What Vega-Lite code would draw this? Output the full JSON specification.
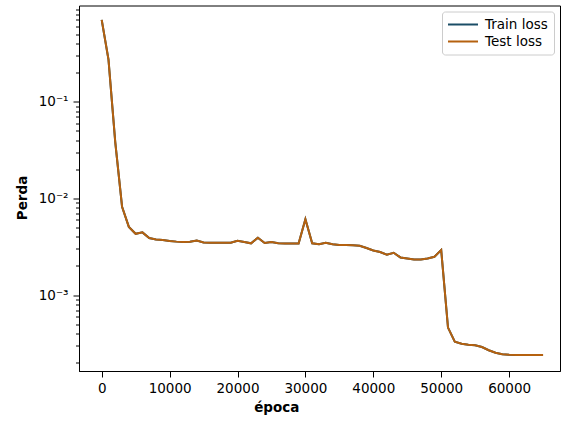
{
  "$schema": "https://vega.github.io/schema/vega-lite/v6.json",
  "width": 481,
  "height": 365.5,
  "autosize": {"type": "none"},
  "padding": {"left": 79, "top": 5.5, "right": 1, "bottom": 50},
  "background": "white",
  "config": {
    "font": "DejaVu Sans",
    "view": {"stroke": "#000000", "strokeWidth": 1},
    "axis": {
      "domainColor": "#000000", "tickColor": "#000000", "labelColor": "#000000", "titleColor": "#000000",
      "labelFont": "DejaVu Sans", "titleFont": "DejaVu Sans", "labelFontSize": 13.5, "titleFontSize": 13.5,
      "titleFontWeight": "bold", "grid": false, "tickWidth": 1, "domainWidth": 1
    },
    "legend": {
      "labelFont": "DejaVu Sans", "labelFontSize": 13.5, "labelColor": "#000000"
    }
  },
  "data": {
    "values": [
      {"epoch": 0, "train": 0.70, "test": 0.70},
      {"epoch": 1000, "train": 0.272, "test": 0.272},
      {"epoch": 2000, "train": 0.038, "test": 0.038},
      {"epoch": 3000, "train": 0.0082, "test": 0.0082},
      {"epoch": 4000, "train": 0.00507, "test": 0.00507},
      {"epoch": 5000, "train": 0.0043, "test": 0.0043},
      {"epoch": 6000, "train": 0.00445, "test": 0.00445},
      {"epoch": 7000, "train": 0.00389, "test": 0.00389},
      {"epoch": 8000, "train": 0.00376, "test": 0.00376},
      {"epoch": 9000, "train": 0.00371, "test": 0.00371},
      {"epoch": 10000, "train": 0.00362, "test": 0.00362},
      {"epoch": 11000, "train": 0.00357, "test": 0.00357},
      {"epoch": 12000, "train": 0.00354, "test": 0.00354},
      {"epoch": 13000, "train": 0.00356, "test": 0.00356},
      {"epoch": 14000, "train": 0.00366, "test": 0.00366},
      {"epoch": 15000, "train": 0.00349, "test": 0.00349},
      {"epoch": 16000, "train": 0.00348, "test": 0.00348},
      {"epoch": 17000, "train": 0.00348, "test": 0.00348},
      {"epoch": 18000, "train": 0.00347, "test": 0.00347},
      {"epoch": 19000, "train": 0.00347, "test": 0.00347},
      {"epoch": 20000, "train": 0.00365, "test": 0.00365},
      {"epoch": 21000, "train": 0.00354, "test": 0.00354},
      {"epoch": 22000, "train": 0.00343, "test": 0.00343},
      {"epoch": 23000, "train": 0.00392, "test": 0.00392},
      {"epoch": 24000, "train": 0.00345, "test": 0.00345},
      {"epoch": 25000, "train": 0.00354, "test": 0.00354},
      {"epoch": 26000, "train": 0.00343, "test": 0.00343},
      {"epoch": 27000, "train": 0.00342, "test": 0.00342},
      {"epoch": 28000, "train": 0.00342, "test": 0.00342},
      {"epoch": 29000, "train": 0.00342, "test": 0.00342},
      {"epoch": 30000, "train": 0.0061, "test": 0.0061},
      {"epoch": 31000, "train": 0.00343, "test": 0.00343},
      {"epoch": 32000, "train": 0.00335, "test": 0.00335},
      {"epoch": 33000, "train": 0.00348, "test": 0.00348},
      {"epoch": 34000, "train": 0.00335, "test": 0.00335},
      {"epoch": 35000, "train": 0.0033, "test": 0.0033},
      {"epoch": 36000, "train": 0.00329, "test": 0.00329},
      {"epoch": 37000, "train": 0.00327, "test": 0.00327},
      {"epoch": 38000, "train": 0.00324, "test": 0.00324},
      {"epoch": 39000, "train": 0.00307, "test": 0.00307},
      {"epoch": 40000, "train": 0.00289, "test": 0.00289},
      {"epoch": 41000, "train": 0.00279, "test": 0.00279},
      {"epoch": 42000, "train": 0.00262, "test": 0.00262},
      {"epoch": 43000, "train": 0.00274, "test": 0.00274},
      {"epoch": 44000, "train": 0.00245, "test": 0.00245},
      {"epoch": 45000, "train": 0.00239, "test": 0.00239},
      {"epoch": 46000, "train": 0.00233, "test": 0.00233},
      {"epoch": 47000, "train": 0.00233, "test": 0.00233},
      {"epoch": 48000, "train": 0.00239, "test": 0.00239},
      {"epoch": 49000, "train": 0.00249, "test": 0.00249},
      {"epoch": 50000, "train": 0.00292, "test": 0.00292},
      {"epoch": 51000, "train": 0.000461, "test": 0.000461},
      {"epoch": 52000, "train": 0.00033, "test": 0.00033},
      {"epoch": 53000, "train": 0.000314, "test": 0.000314},
      {"epoch": 54000, "train": 0.000307, "test": 0.000307},
      {"epoch": 55000, "train": 0.000303, "test": 0.000303},
      {"epoch": 56000, "train": 0.00029, "test": 0.00029},
      {"epoch": 57000, "train": 0.000269, "test": 0.000269},
      {"epoch": 58000, "train": 0.000253, "test": 0.000253},
      {"epoch": 59000, "train": 0.000245, "test": 0.000245},
      {"epoch": 60000, "train": 0.000241, "test": 0.000241},
      {"epoch": 61000, "train": 0.00024, "test": 0.00024},
      {"epoch": 62000, "train": 0.00024, "test": 0.00024},
      {"epoch": 63000, "train": 0.00024, "test": 0.00024},
      {"epoch": 64000, "train": 0.00024, "test": 0.00024},
      {"epoch": 65000, "train": 0.00024, "test": 0.00024}
    ]
  },
  "layer": [
    {
      "mark": {"type": "line", "strokeWidth": 2},
      "encoding": {
        "x": {
          "field": "epoch", "type": "quantitative",
          "scale": {"domain": [-3343, 67496], "nice": false, "zero": false},
          "axis": {
            "title": "época", "values": [0, 10000, 20000, 30000, 40000, 50000, 60000], "format": "d",
            "tickSize": 6, "labelPadding": 4, "labelFlush": false, "labelOverlap": false,
            "titleX": 197.3, "titleY": 40.8, "titleBaseline": "alphabetic"
          }
        },
        "y": {
          "field": "train", "type": "quantitative",
          "scale": {"type": "log", "domain": [0.000164, 0.987], "nice": false},
          "axis": {
            "title": "Perda",
            "values": [0.0002, 0.0003, 0.0004, 0.0005, 0.0006, 0.0007, 0.0008, 0.0009, 0.001, 0.002, 0.003, 0.004, 0.005, 0.006, 0.007, 0.008, 0.009, 0.01, 0.02, 0.03, 0.04, 0.05, 0.06, 0.07, 0.08, 0.09, 0.1, 0.2, 0.3, 0.4, 0.5, 0.6, 0.7, 0.8, 0.9],
            "labelExpr": "datum.value == 0.1 ? '10⁻¹' : datum.value == 0.01 ? '10⁻²' : datum.value == 0.001 ? '10⁻³' : ''",
            "tickSize": {"condition": {"test": "datum.value == 0.1 || datum.value == 0.01 || datum.value == 0.001", "value": 6}, "value": 3.5},
            "labelPadding": 5, "labelOverlap": false, "labelBound": false, "labelFlush": false,
            "titleX": -53, "titleY": 192, "titleBaseline": "alphabetic"
          }
        },
        "color": {
          "datum": "Train loss",
          "scale": {"domain": ["Train loss", "Test loss"], "range": ["#1a4d66", "#b5610f"]},
          "legend": {
            "title": null, "orient": "top-right", "offset": 6,
            "symbolType": "M-2.5,0H2.5", "symbolSize": 144, "symbolStrokeWidth": 2,
            "symbolOffset": 8, "labelOffset": 15, "padding": 6, "rowPadding": 3,
            "fillColor": "white", "strokeColor": "#cccccc", "cornerRadius": 3
          }
        }
      }
    },
    {
      "mark": {"type": "line", "strokeWidth": 2},
      "encoding": {
        "x": {
          "field": "epoch", "type": "quantitative",
          "scale": {"domain": [-3343, 67496], "nice": false, "zero": false},
          "axis": {
            "title": "época", "values": [0, 10000, 20000, 30000, 40000, 50000, 60000], "format": "d",
            "tickSize": 6, "labelPadding": 4, "labelFlush": false, "labelOverlap": false,
            "titleX": 197.3, "titleY": 40.8, "titleBaseline": "alphabetic"
          }
        },
        "y": {
          "field": "test", "type": "quantitative",
          "scale": {"type": "log", "domain": [0.000164, 0.987], "nice": false},
          "axis": {
            "title": "Perda",
            "values": [0.0002, 0.0003, 0.0004, 0.0005, 0.0006, 0.0007, 0.0008, 0.0009, 0.001, 0.002, 0.003, 0.004, 0.005, 0.006, 0.007, 0.008, 0.009, 0.01, 0.02, 0.03, 0.04, 0.05, 0.06, 0.07, 0.08, 0.09, 0.1, 0.2, 0.3, 0.4, 0.5, 0.6, 0.7, 0.8, 0.9],
            "labelExpr": "datum.value == 0.1 ? '10⁻¹' : datum.value == 0.01 ? '10⁻²' : datum.value == 0.001 ? '10⁻³' : ''",
            "tickSize": {"condition": {"test": "datum.value == 0.1 || datum.value == 0.01 || datum.value == 0.001", "value": 6}, "value": 3.5},
            "labelPadding": 5, "labelOverlap": false, "labelBound": false, "labelFlush": false,
            "titleX": -53, "titleY": 192, "titleBaseline": "alphabetic"
          }
        },
        "color": {
          "datum": "Test loss",
          "scale": {"domain": ["Train loss", "Test loss"], "range": ["#1a4d66", "#b5610f"]},
          "legend": {
            "title": null, "orient": "top-right", "offset": 6,
            "symbolType": "M-2.5,0H2.5", "symbolSize": 144, "symbolStrokeWidth": 2,
            "symbolOffset": 8, "labelOffset": 15, "padding": 6, "rowPadding": 3,
            "fillColor": "white", "strokeColor": "#cccccc", "cornerRadius": 3
          }
        }
      }
    }
  ]
}
